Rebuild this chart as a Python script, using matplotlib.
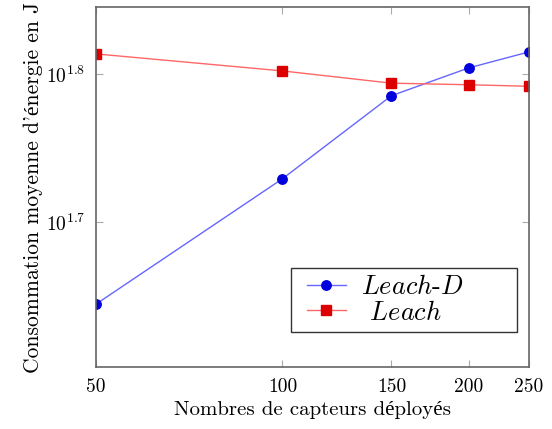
import matplotlib as mpl
mpl.use('Agg')
import matplotlib.pyplot as plt
from matplotlib.patches import Rectangle
from matplotlib.ticker import FixedLocator, FixedFormatter, NullLocator

# number of deployed sensors
nodes = [50, 100, 150, 200, 250]
# average energy consumption (J)
leach_d = [44.1, 53.6, 61.0, 63.7, 65.3]
leach = [65.1, 63.4, 62.2, 62.05, 61.9]

x_ticks = [50, 100, 150, 200, 250]
y_ticks = [10 ** 1.7, 10 ** 1.8]
y_tick_labels = [r'$10^{1.7}$', r'$10^{1.8}$']

plt.rcParams['font.family'] = ['cmr10', 'Liberation Serif']
plt.rcParams['mathtext.fontset'] = 'cm'
plt.rcParams['axes.unicode_minus'] = False

fig = plt.figure(figsize=(5.52, 4.29), dpi=100)
ax = fig.add_axes([0.174, 0.145, 0.784, 0.838])

ax.plot(nodes, leach_d, '-', color='#6666ff', lw=1.0, marker='o', ms=6.8,
        mfc='#0000dd', mec='#0000dd', label=r'$\mathit{Leach}$-$\mathit{D}$')
ax.plot(nodes, leach, '-', color='#ff6666', lw=1.0, marker='s', ms=6.8,
        mfc='#dd0000', mec='#dd0000', label=r' $\mathit{Leach}$')

ax.set_xscale('log')
ax.set_yscale('log')
ax.set_xlim(50, 250)
ax.set_ylim(40, 70)

ax.xaxis.set_major_locator(FixedLocator(x_ticks))
ax.xaxis.set_major_formatter(FixedFormatter([str(v) for v in x_ticks]))
ax.xaxis.set_minor_locator(NullLocator())
ax.yaxis.set_major_locator(FixedLocator(y_ticks))
ax.yaxis.set_major_formatter(FixedFormatter(y_tick_labels))
ax.yaxis.set_minor_locator(NullLocator())

ax.tick_params(direction='in', length=5, color='#aaaaaa', top=True, right=True,
               labelsize=14, pad=8)
for s in ax.spines.values():
    s.set_color('#666666')
    s.set_linewidth(1.2)

ax.set_xlabel('Nombres de capteurs déployés', fontsize=15, labelpad=4)
ax.set_ylabel("Consommation moyenne d'énergie en J", fontsize=15.5, labelpad=2)

# legend box drawn by hand, entries placed inside without their own frame
ax.add_patch(Rectangle((0.451, 0.097), 0.521, 0.178, transform=ax.transAxes,
                       fill=False, edgecolor='#333333', lw=1.0, zorder=5))
ax.legend(loc='center left', bbox_to_anchor=(0.488, 0.186), fontsize=19,
          frameon=False, handlelength=1.45, handletextpad=0.6,
          borderpad=0, labelspacing=0.05, borderaxespad=0)

fig.savefig('out.png', dpi=100)
